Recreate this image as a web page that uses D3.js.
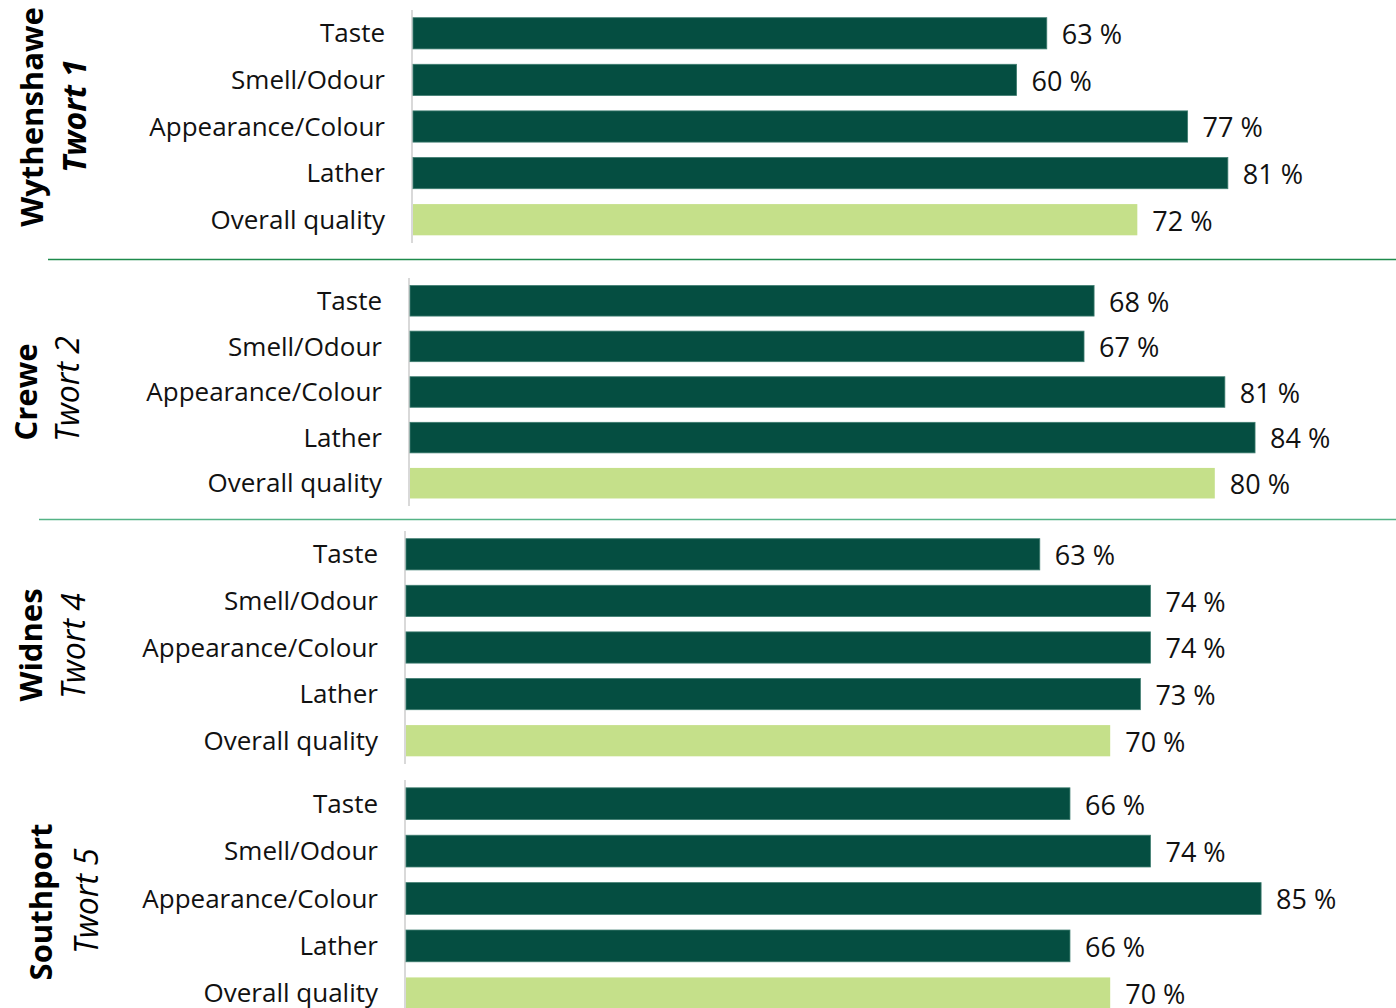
<!DOCTYPE html>
<html>
<head>
<meta charset="utf-8">
<script src="https://cdn.jsdelivr.net/npm/d3@7"></script>
<style>
  body { margin: 0; background: #fff; }
  svg { display: block; font-family: "Open Sans", sans-serif; }
</style>
</head>
<body>
<div id="chart"></div>
<script>
// Data
const categories = ["Taste", "Smell/Odour", "Appearance/Colour", "Lather", "Overall quality"];
const sites = ["Wythenshawe", "Crewe", "Widnes", "Southport"];
const works = ["Twort 1", "Twort 2", "Twort 4", "Twort 5"];
const wythenshawe = [63, 60, 77, 81, 72];
const crewe = [68, 67, 81, 84, 80];
const widnes = [63, 74, 74, 73, 70];
const southport = [66, 74, 85, 66, 70];
const values = [wythenshawe, crewe, widnes, southport];

// Layout of each panel (axis x, band top/bottom, title positions)
const panels = [
    { x0: 413, top: 10, bottom: 243, siteX: 43, siteY: 117, workX: 86, workY: 116, workBold: true },
    { x0: 410, top: 278, bottom: 506, siteX: 37, siteY: 392, workX: 79, workY: 389, workBold: false },
    { x0: 406, top: 531, bottom: 764, siteX: 42, siteY: 645, workX: 85, workY: 646, workBold: false },
    { x0: 406, top: 780, bottom: 1017, siteX: 52, siteY: 902, workX: 98, workY: 901, workBold: false }
];
const separators = [
    { y: 259.5, x1: 48, color: "#1e8a4c" },
    { y: 519.5, x1: 39, color: "#55b386" }
];

const width = 1396;
const height = 1008;
const darkColor = "#054e41";
const lightColor = "#c5e08a";

const svg = d3.select("#chart").append("svg")
    .attr("width", width)
    .attr("height", height);

const x = d3.scaleLinear().domain([0, 100]).range([0, 1006]);

panels.forEach((p, i) => {
    const y = d3.scaleBand()
        .domain(categories)
        .range([p.top, p.bottom])
        .paddingInner(0.33)
        .paddingOuter(0.165);

    const g = svg.append("g");

    // vertical axis line
    g.append("line")
        .attr("x1", p.x0 - 1).attr("x2", p.x0 - 1)
        .attr("y1", p.top).attr("y2", p.bottom)
        .attr("stroke", "#d9d9d9")
        .attr("stroke-width", 2);

    const rows = categories.map((c, j) => ({ cat: c, value: values[i][j] }));

    g.selectAll("rect")
        .data(rows)
        .enter()
        .append("rect")
        .attr("x", p.x0)
        .attr("y", d => y(d.cat))
        .attr("width", d => x(d.value))
        .attr("height", y.bandwidth())
        .attr("fill", d => d.cat === "Overall quality" ? lightColor : darkColor)
        .attr("stroke", d => d.cat === "Overall quality" ? "none" : "#3f7d70")
        .attr("stroke-width", 0.8);

    // category labels
    g.selectAll("text.cat")
        .data(rows)
        .enter()
        .append("text")
        .attr("class", "cat")
        .attr("x", p.x0 - 28)
        .attr("y", d => y(d.cat) + y.bandwidth() / 2)
        .attr("dy", "0.35em")
        .attr("text-anchor", "end")
        .style("font-size", "26px")
        .style("fill", "#111")
        .text(d => d.cat);

    // value labels
    g.selectAll("text.val")
        .data(rows)
        .enter()
        .append("text")
        .attr("class", "val")
        .attr("x", d => p.x0 + x(d.value) + 15)
        .attr("y", d => y(d.cat) + y.bandwidth() / 2)
        .attr("dy", "0.4em")
        .style("font-size", "27px")
        .style("fill", "#111")
        .text(d => `${d.value} %`);

    // panel titles
    g.append("text")
        .attr("transform", `translate(${p.siteX},${p.siteY}) rotate(-90)`)
        .attr("text-anchor", "middle")
        .style("font-size", "31px")
        .style("font-weight", "bold")
        .style("fill", "#000")
        .text(sites[i]);

    g.append("text")
        .attr("transform", `translate(${p.workX},${p.workY}) rotate(-90)`)
        .attr("text-anchor", "middle")
        .style("font-size", "32px")
        .style("font-style", "italic")
        .style("font-weight", p.workBold ? "bold" : "normal")
        .style("fill", "#000")
        .text(works[i]);
});

svg.selectAll("line.sep")
    .data(separators)
    .enter()
    .append("line")
    .attr("class", "sep")
    .attr("x1", d => d.x1)
    .attr("x2", width)
    .attr("y1", d => d.y)
    .attr("y2", d => d.y)
    .attr("stroke", d => d.color)
    .attr("stroke-width", 1.6);
</script>
</body>
</html>
